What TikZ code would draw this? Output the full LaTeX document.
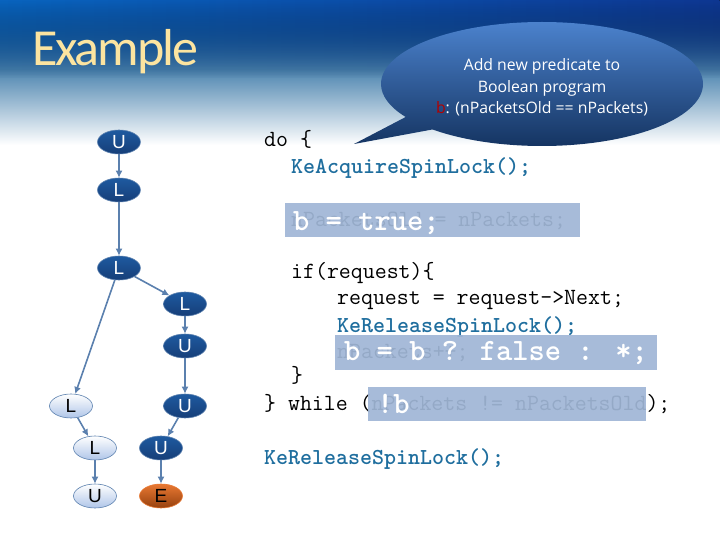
\documentclass[tikz,border=0pt]{standalone}
\usepackage{fontspec}
\setmainfont{Carlito}
\newfontfamily\callfont{Open Sans}
\newfontfamily\nodefont{Liberation Sans}
\usetikzlibrary{arrows.meta,shapes.geometric,shapes.callouts,fadings}
\definecolor{edgeblue}{HTML}{5B80AE}
\definecolor{codeblue}{HTML}{1F6E9E}
\definecolor{boxblue}{HTML}{A0B6D6}
\definecolor{darktop}{HTML}{1E5AA0}
\definecolor{darkbot}{HTML}{163E78}
\definecolor{palebot}{HTML}{AFC5E8}
\definecolor{endtop}{HTML}{E87832}
\definecolor{endbot}{HTML}{96410F}
\definecolor{titlecol}{HTML}{FCE4A0}
\definecolor{calltop}{HTML}{4B82CD}
\definecolor{callbot}{HTML}{12305C}
\definecolor{headtop}{HTML}{0A69CD}
\definecolor{headmid}{HTML}{4F86B0}
\definecolor{headleft}{HTML}{0A6ED2}
\definecolor{headcen}{HTML}{3C3C82}
\definecolor{headright}{HTML}{0F3CA0}
\tikzfading[name=fadeheader,top color=transparent!0,bottom color=transparent!100]
\tikzset{
  dark/.style={ellipse,draw=edgeblue,line width=0.6pt,minimum width=43pt,minimum height=24pt,inner sep=0pt,top color=darktop,bottom color=darkbot,text=white,font=\nodefont\fontsize{19}{19}\selectfont},
  pale/.style={ellipse,draw=edgeblue,line width=0.6pt,minimum width=43pt,minimum height=24pt,inner sep=0pt,top color=white,bottom color=palebot,text=black,font=\nodefont\fontsize{19}{19}\selectfont},
  endnode/.style={ellipse,draw=endtop,line width=0.6pt,minimum width=43pt,minimum height=24pt,inner sep=0pt,top color=endtop,bottom color=endbot,text=black,font=\nodefont\fontsize{19}{19}\selectfont},
  edge/.style={draw=edgeblue,line width=1.6pt,-{Latex[length=7pt,width=7pt]}},
  code/.style={anchor=base west,inner sep=0pt,font=\ttfamily\fontsize{23.2}{23.2}\selectfont},
  lock/.style={code,text=codeblue,font=\ttfamily\bfseries\fontsize{22.86}{22.86}\selectfont},
  cover/.style={anchor=north west,inner sep=0pt,fill=boxblue,fill opacity=0.93},
  newcode/.style={anchor=base west,inner sep=0pt,text=white,font=\ttfamily\bfseries\fontsize{31}{31}\selectfont},
}
\begin{document}
\begin{tikzpicture}[x=1pt,y=-1pt]
\useasboundingbox (0,0) rectangle (720,540);
% Header background
\fill[top color=headtop,bottom color=headmid] (0,0) rectangle (720,70.5);
\fill[top color=headmid,bottom color=white] (0,70) rectangle (720,145);
\fill[left color=headleft,middle color=headcen,right color=headright,path fading=fadeheader,fill opacity=0.9] (0,0) rectangle (720,78);

% Title
\node[anchor=base west,inner sep=0pt,text=titlecol,font=\fontsize{52}{52}\selectfont] (title) at (32,66) {\addfontfeature{LetterSpace=-4}Example};

% Callout
\node[ellipse callout,minimum width=322pt,minimum height=124pt,inner sep=0pt,callout absolute pointer={(354,144)},top color=calltop,bottom color=callbot,text=white,align=center,font=\callfont\fontsize{15.8}{21.5}\selectfont] (callout) at (542,84) {\rule{0pt}{19pt}Add new predicate to\\Boolean program\\\textcolor{red!70!black}{b}: (nPacketsOld == nPackets)};

% Graph nodes
\node[dark] (u1) at (119,142) {U};
\node[dark] (l1) at (119,190) {L};
\node[dark] (l2) at (119,268) {L};
\node[dark] (l3) at (185,304) {L};
\node[dark] (u2) at (185,346) {U};
\node[dark] (u3) at (185,406) {U};
\node[dark] (u4) at (161,448) {U};
\node[endnode] (e1) at (161,496) {E};
\node[pale] (l4) at (71,406) {L};
\node[pale] (l5) at (95,448) {L};
\node[pale] (u5) at (95,496) {U};

% Graph edges
\draw[edge] (u1) -- (l1);
\draw[edge] (l1) -- (l2);
\draw[edge] (l2) -- (l3);
\draw[edge] (l2) -- (l4);
\draw[edge] (l3) -- (u2);
\draw[edge] (u2) -- (u3);
\draw[edge] (u3) -- (u4);
\draw[edge] (u4) -- (e1);
\draw[edge] (l4) -- (l5);
\draw[edge] (l5) -- (u5);

% Code lines
\node[code] (do) at (264,147) {do \{};
\node[lock] (acq) at (291,174) {KeAcquireSpinLock();};
\node[code] (old) at (291,226) {nPacketsOld = nPackets;};
\node[code] (if) at (291,278) {if(request)\{};
\node[code] (next) at (337,304) {request = request->Next;};
\node[lock] (rel) at (337,332) {KeReleaseSpinLock();};
\node[code] (inc) at (337,358) {nPackets++;};
\node[code] (close) at (291,382) {\}};
\node[code] (while) at (264,410) {\} while (nPackets != nPacketsOld);};
\node[lock] (rel2) at (264,464) {KeReleaseSpinLock();};

% Boxes over the old code
\node[cover,minimum width=295pt,minimum height=34pt] (box1) at (285,203) {};
\node[cover,minimum width=322pt,minimum height=35pt] (box2) at (335,335) {};
\node[cover,minimum width=278pt,minimum height=34pt] (box3) at (368,387) {};
\node[newcode] (new1) at (293,230) {b = true;};
\node[newcode] (new2) at (344,360) {b = b ? false : *;};
\node[newcode] (new3) at (377,413) {!b};
\end{tikzpicture}
\end{document}
